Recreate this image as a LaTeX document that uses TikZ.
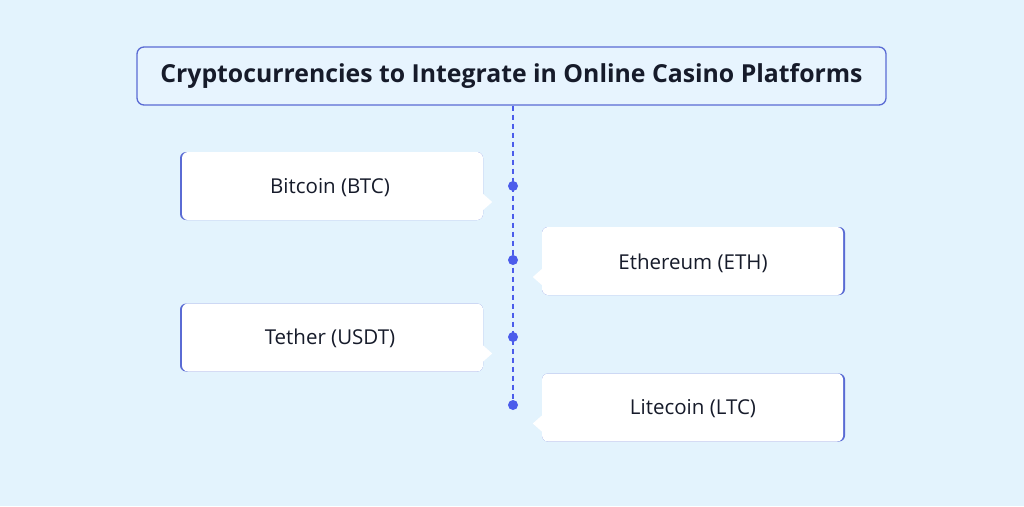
\documentclass[tikz,border=0pt]{standalone}
\usepackage{fontspec}
\setmainfont{Open Sans}
\definecolor{bg}{HTML}{E3F3FD}
\definecolor{titlefill}{HTML}{E7F4FE}
\definecolor{edge}{HTML}{5A6BD4}
\definecolor{dotc}{HTML}{4B5CEB}
\definecolor{ink}{HTML}{161B2A}
\begin{document}
\begin{tikzpicture}[x=1pt,y=-1pt,
  titlebox/.style={draw=edge,line width=1.3pt,fill=titlefill,rounded corners=7pt,minimum width=749pt,minimum height=58pt,inner sep=0pt,text=ink,font=\fontsize{24.8}{28}\selectfont\bfseries},
  itembox/.style={fill=white,rounded corners=6pt,minimum width=301pt,minimum height=68pt,inner sep=0pt},
  itemtext/.style={text=ink,font=\fontsize{20.5}{24}\selectfont},
  leftedge/.style={fill=edge,rounded corners=6pt,minimum width=303pt,minimum height=68pt,inner sep=0pt},
  dotn/.style={circle,fill=dotc,minimum size=10pt,inner sep=0pt},
  spine/.style={draw=dotc,line width=1.2pt,dash pattern=on 5pt off 4pt}]
\fill[bg] (0,0) rectangle (1024,506);
\useasboundingbox (0,0) rectangle (1024,506);
% title
\node[titlebox] (title) at (511.5,76) {Cryptocurrencies to Integrate in Online Casino Platforms};
% dots
\node[dotn] (d1) at (513,186) {};
\node[dotn] (d2) at (513,260) {};
\node[dotn] (d3) at (513,337) {};
\node[dotn] (d4) at (513,405) {};
\draw[spine] (title.south -| d1) -- (d4);
% box 1 (left)
\node[leftedge] (e1) at (331.5,186) {};
\node[itembox] (b1) at (332.5,186) {};
\fill[white] ([yshift=-8pt]b1.east) -- ++(9,8) -- ++(-9,8) -- cycle;
\node[itemtext] (t1) at (330,187.5) {Bitcoin (BTC)};
% box 2 (right)
\node[leftedge] (e2) at (693.5,261) {};
\node[itembox] (b2) at (692.5,261) {};
\fill[white] ([yshift=-8pt]b2.west) -- ++(-9,8) -- ++(9,8) -- cycle;
\node[itemtext] (t2) at (693,263) {Ethereum (ETH)};
% box 3 (left)
\node[leftedge] (e3) at (331.5,337.5) {};
\node[itembox] (b3) at (332.5,337.5) {};
\fill[white] ([yshift=-8pt]b3.east) -- ++(9,8) -- ++(-9,8) -- cycle;
\node[itemtext] (t3) at (330,338.5) {Tether (USDT)};
% box 4 (right)
\node[leftedge] (e4) at (693.5,407.5) {};
\node[itembox] (b4) at (692.5,407.5) {};
\fill[white] ([yshift=-8pt]b4.west) -- ++(-9,8) -- ++(9,8) -- cycle;
\node[itemtext] (t4) at (693,409) {Litecoin (LTC)};
\end{tikzpicture}
\end{document}
